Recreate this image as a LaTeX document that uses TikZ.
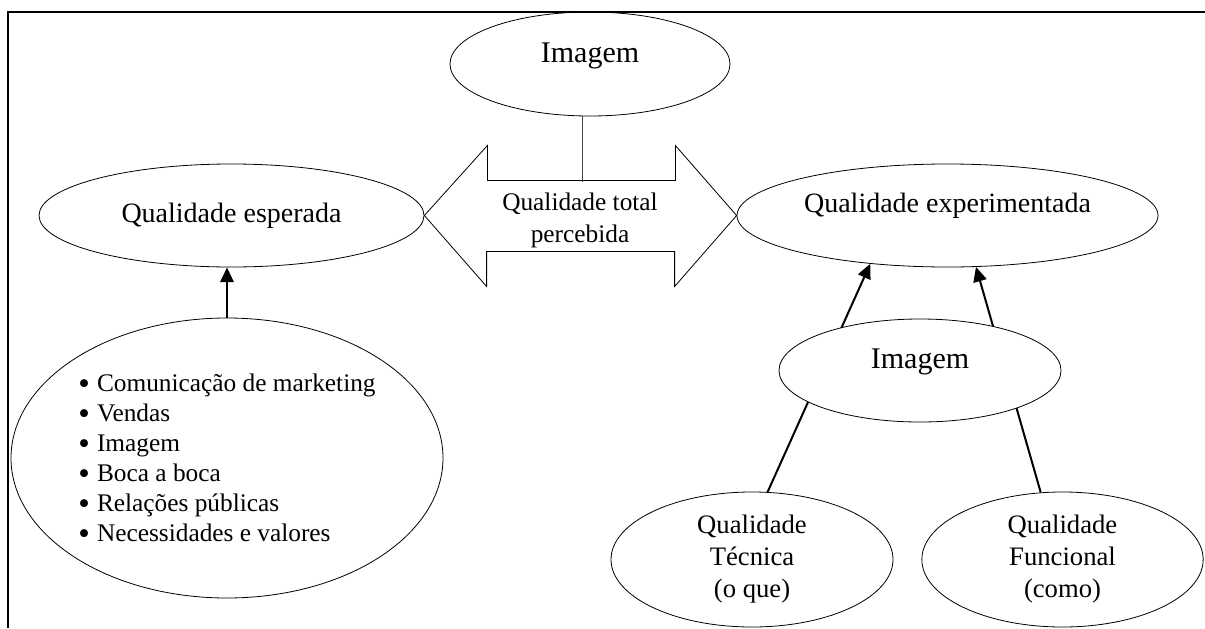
\documentclass[tikz,border=0pt]{standalone}
\usepackage{fontspec}
\setmainfont{Liberation Serif}
\usetikzlibrary{shapes.geometric, arrows.meta}

\newcommand{\itm}{\makebox[14pt][l]{\smash{\raisebox{-0.1em}{\scalebox{1.3}{\textbullet}}}}}

\begin{document}
\begin{tikzpicture}[x=0.75pt, y=-0.75pt,
  oval/.style={draw, ellipse, inner sep=0pt, line width=0.6pt},
  conn/.style={line width=1.5pt, -{Triangle[length=11pt,width=10pt]}}]
\useasboundingbox (0,0) rectangle (1205,628);
% top row
\node[oval, minimum width=210pt, minimum height=78pt, font=\fontsize{22.5}{27}\selectfont, text depth=17pt] (img1) at (590,64) {Imagem};
\node[oval, minimum width=288.75pt, minimum height=77.25pt, font=\fontsize{21}{25}\selectfont] (esp) at (231.5,215.5) {Qualidade esperada};
\node[oval, minimum width=315.75pt, minimum height=77.25pt, font=\fontsize{21}{25}\selectfont, text depth=19pt] (exp) at (947.5,215.5) {Qualidade experimentada};
% double arrow
\draw[line width=0.6pt] (esp.east) -- ++(63,-70) -- ++(0,35) -- ++(188,0) -- ++(0,-35) -- (exp.west)
  -- ++(-62,71) -- ++(0,-35) -- ++(-188,0) -- ++(0,35) -- cycle;
\node[font=\fontsize{19}{24}\selectfont, align=center] (total) at (580,220) {Qualidade total\\percebida};
\coordinate (shaft) at (582,182);
\draw[line width=0.6pt, black!75] (shaft |- img1.south) -- (shaft);
% left side
\node[oval, minimum width=324pt, minimum height=210pt, align=left, font=\fontsize{19}{22.5}\selectfont] (list) at (227,458) {\itm Comunicação de marketing\\\itm Vendas\\\itm Imagem\\\itm Boca a boca\\\itm Relações públicas\\\itm Necessidades e valores};
\draw[conn] (list) -- (list |- esp.south);
% right side
\node[oval, minimum width=211.5pt, minimum height=101.25pt, align=center, font=\fontsize{20}{24}\selectfont] (tec) at (752,559.5) {Qualidade\\Técnica\\(o que)};
\node[oval, minimum width=211pt, minimum height=101.25pt, align=center, font=\fontsize{20}{24}\selectfont] (fun) at (1062.5,559.5) {Qualidade\\Funcional\\(como)};
\draw[conn] (tec.77) -- (exp.212);
\draw[conn] (fun.108) -- (exp.299);
\node[oval, fill=white, minimum width=211.5pt, minimum height=77.25pt, font=\fontsize{22.5}{27}\selectfont, text depth=17pt] (img2) at (920,370.5) {Imagem};
% frame
\draw[line width=1.3pt] (8,628) -- (8,12) -- (1205,12);
\end{tikzpicture}
\end{document}
